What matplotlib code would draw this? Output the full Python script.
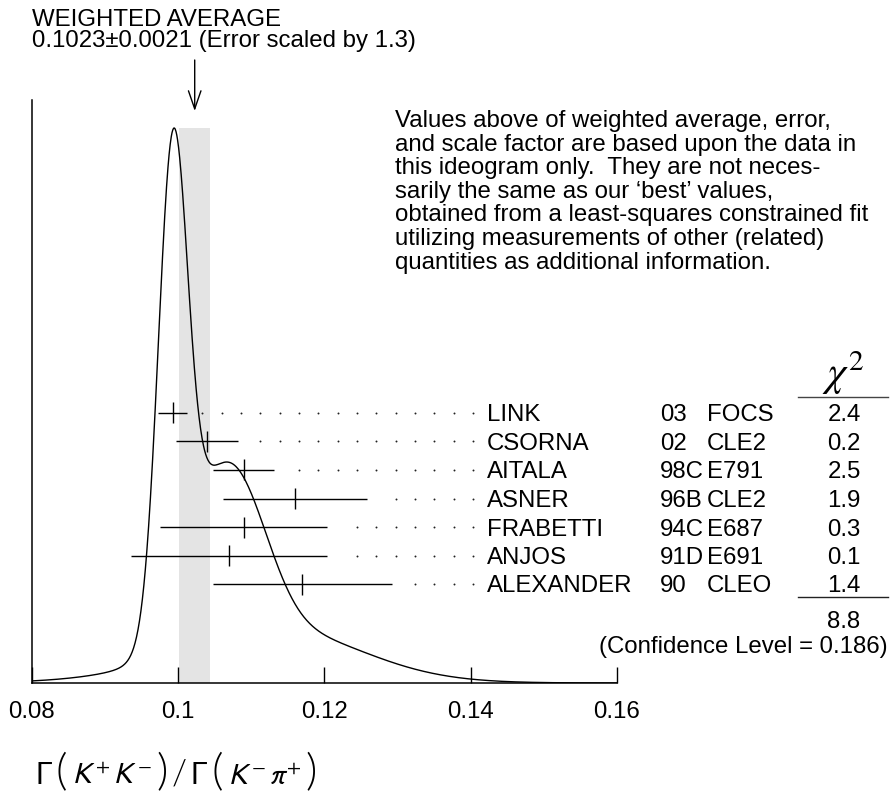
import numpy as np
import matplotlib.pyplot as plt
import matplotlib.transforms as mtransforms
from matplotlib.lines import Line2D
from matplotlib.offsetbox import TextArea, HPacker, AnnotationBbox

plt.rcParams['font.family'] = ['Liberation Sans', 'DejaVu Sans']

# measurements shown in the ideogram
names = ['LINK', 'CSORNA', 'AITALA', 'ASNER', 'FRABETTI', 'ANJOS', 'ALEXANDER']
years = ['03', '02', '98C', '96B', '94C', '91D', '90']
experiments = ['FOCS', 'CLE2', 'E791', 'CLE2', 'E687', 'E691', 'CLEO']
values = [0.0993, 0.1040, 0.1090, 0.1160, 0.1090, 0.1070, 0.1170]
errors = [0.0020, 0.0042, 0.0042, 0.0099, 0.0114, 0.0134, 0.0122]
chi2 = ['2.4', '0.2', '2.5', '1.9', '0.3', '0.1', '1.4']
chi2_total = '8.8'
conf_level = '0.186'

avg = 0.1023
avg_err = 0.0021
scale_factor = 1.3

xticks = [0.08, 0.1, 0.12, 0.14, 0.16]
xtick_labels = ['0.08', '0.1', '0.12', '0.14', '0.16']

note_lines = [
    'Values above of weighted average, error,',
    'and scale factor are based upon the data in',
    'this ideogram only.  They are not neces-',
    'sarily the same as our \u2018best\u2019 values,',
    'obtained from a least-squares constrained fit',
    'utilizing measurements of other (related)',
    'quantities as additional information.',
]

# layout (pixels, top-down)
W, H = 890, 792
x0_px, x1_px = 31.5, 617
base_px, top_px, peak_px = 683, 100, 128
row0_px, row_step_px = 413, 28.5
fs = 17.3

fig = plt.figure(figsize=(W / 100, H / 100), dpi=100)
ax = fig.add_axes([x0_px / W, 1 - base_px / H, (x1_px - x0_px) / W, (base_px - top_px) / H])
ax.set_xlim(0.08, 0.16)
ax.set_ylim(0, (base_px - top_px) / (base_px - peak_px))
py = 1.0 / (base_px - peak_px)  # one pixel in data-y

pix = mtransforms.Affine2D().scale(1 / W, -1 / H).translate(0, 1) + fig.transFigure
row_trans = mtransforms.blended_transform_factory(pix, ax.transData)
arrow_trans = mtransforms.blended_transform_factory(ax.transData, pix)

# ideogram: gaussians with area proportional to 1/sigma
xs = np.linspace(0.08, 0.16, 1601)
ideo = np.zeros_like(xs)
for v, e in zip(values, errors):
    ideo += np.exp(-0.5 * ((xs - v) / e) ** 2) / e ** 2
ideo = ideo / ideo.max()

ax.fill_between([avg - avg_err, avg + avg_err], 0, 1, color='#e4e4e4', lw=0, zorder=0)
ax.plot(xs, ideo, color='black', lw=1.0, zorder=3)

# measurement rows
rows_y = [(base_px - (row0_px + i * row_step_px)) * py for i in range(len(names))]
tick_h = 10.5 * py
dot_last = 0.08 + (473 - x0_px) / (x1_px - x0_px) * 0.08
dot_step = 19.33 / (x1_px - x0_px) * 0.08
for v, e, y in zip(values, errors, rows_y):
    ax.hlines(y, v - e, v + e, color='black', lw=1.0, zorder=4)
    ax.vlines(v, y - tick_h, y + tick_h, color='black', lw=1.0, zorder=4)
    dots = dot_last - np.arange(0, 40) * dot_step
    dots = dots[dots > v + e + 0.0015]
    ax.plot(dots, [y] * len(dots), ls='none', marker='o', ms=1.4, mew=0,
            color='#222222', zorder=2)

cap = 8.5 * py
for name, yr, ex, c, y in zip(names, years, experiments, chi2, rows_y):
    ax.text(487, y - cap, name, transform=row_trans, fontsize=fs, va='baseline', ha='left')
    ax.text(660, y - cap, yr, transform=row_trans, fontsize=fs, va='baseline', ha='left')
    ax.text(707, y - cap, ex, transform=row_trans, fontsize=fs, va='baseline', ha='left')
    ax.text(844, y - cap, c, transform=row_trans, fontsize=fs, va='baseline', ha='center')

# chi2 header, sum and confidence level
fig.text(843, 386, r'$\chi^2$', transform=pix, fontsize=30, ha='center', va='baseline',
         math_fontfamily='stix')
fig.add_artist(Line2D([798, 888], [397, 397], transform=pix, color='#444444', lw=1.0))
fig.add_artist(Line2D([798, 888], [597, 597], transform=pix, color='#222222', lw=1.0))
fig.text(844, 628, chi2_total, transform=pix, fontsize=fs, ha='center', va='baseline')
fig.text(888, 653, '(Confidence Level = {})'.format(conf_level), transform=pix,
         fontsize=fs, ha='right', va='baseline')

# weighted average title and arrow
fig.text(32, 26, 'WEIGHTED AVERAGE', transform=pix, fontsize=fs, va='baseline')
fig.text(32, 47.5, '{:.4f}\u00b1{:.4f} (Error scaled by {})'.format(avg, avg_err, scale_factor),
         transform=pix, fontsize=fs, va='baseline')
ax.annotate('', xy=(avg, 111), xytext=(avg, 60), xycoords=arrow_trans, textcoords=arrow_trans,
            annotation_clip=False,
            arrowprops=dict(arrowstyle='->,head_length=1.3,head_width=0.45', lw=1.0,
                            color='black', shrinkA=0, shrinkB=0))

# explanatory note
for i, line in enumerate(note_lines):
    fig.text(395, 127 + i * 23.6, line, transform=pix, fontsize=fs, va='baseline')

# axes styling
for s in ['top', 'right']:
    ax.spines[s].set_visible(False)
for s in ['left', 'bottom']:
    ax.spines[s].set_linewidth(1.1)
ax.set_yticks([])
ax.set_xticks(xticks, labels=xtick_labels)
ax.tick_params(axis='x', direction='in', length=11.5, width=1.0, labelsize=fs, pad=13)

# quantity label: math pieces between tall thin parentheses
gamma_props = dict(fontsize=22)
math_props = dict(fontsize=21, math_fontfamily='stixsans')
paren_props = dict(fontsize=32, family=['Lato', 'Roboto', 'DejaVu Sans'], fontweight=300)
slash_props = dict(fontsize=25, family=['Lato', 'Roboto', 'DejaVu Sans'], fontweight=300)
pieces = [
    TextArea('\u0393', textprops=gamma_props),
    TextArea('(', textprops=paren_props),
    TextArea(r'$K^{+}\,K^{-}$', textprops=math_props),
    TextArea(')', textprops=paren_props),
    TextArea('/', textprops=slash_props),
    TextArea('\u0393', textprops=gamma_props),
    TextArea('(', textprops=paren_props),
    TextArea(r'$K^{-}\,\pi^{+}$', textprops=math_props),
    TextArea(')', textprops=paren_props),
]
label_box = HPacker(children=pieces, align='baseline', pad=0, sep=3)
fig.add_artist(AnnotationBbox(label_box, (35, 773), xycoords=pix, box_alignment=(0, 0.5),
                              frameon=False, pad=0))

plt.savefig('out.png', dpi=100)
